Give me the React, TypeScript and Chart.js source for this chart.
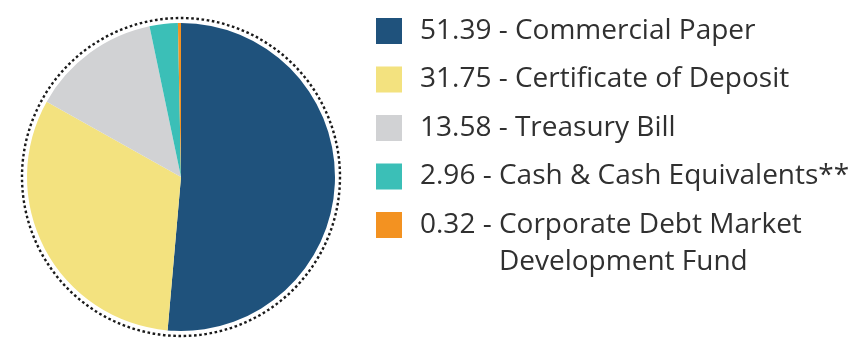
import React, { useEffect, useRef } from "react";
import { Chart, registerables } from "chart.js";

Chart.register(...registerables);

const categories: string[][] = [
  ["Commercial Paper"],
  ["Certificate of Deposit"],
  ["Treasury Bill"],
  ["Cash & Cash Equivalents**"],
  ["Corporate Debt Market", "Development Fund"],
];
const values: number[] = [51.39, 31.75, 13.58, 2.96, 0.32];
const colors: string[] = ["#1f527c", "#f3e27f", "#d1d2d4", "#3bbfb7", "#f39221"];

const FONT = '28px "Open Sans", sans-serif';

const decorPlugin = {
  id: "decor",
  beforeDatasetsDraw(chart: any) {
    const meta = chart.getDatasetMeta(0);
    const arc = meta.data[0];
    if (!arc) return;
    const ctx = chart.ctx;
    ctx.save();
    ctx.beginPath();
    ctx.setLineDash([2.6, 2.6]);
    ctx.lineWidth = 2.4;
    ctx.strokeStyle = "#1a1a1a";
    ctx.arc(arc.x, arc.y, arc.outerRadius + 5, 0, Math.PI * 2);
    ctx.stroke();
    ctx.restore();
  },
  afterDraw(chart: any) {
    const ctx = chart.ctx;
    const labels = chart.data.labels as string[][];
    const data = chart.data.datasets[0].data as number[];
    const bg = chart.data.datasets[0].backgroundColor as string[];
    const boxX = 376;
    const textX = 420;
    const startY = 31;
    const rowH = 48.5;
    const lineH = 37;
    ctx.save();
    ctx.font = FONT;
    ctx.textBaseline = "middle";
    labels.forEach((lines, i) => {
      const cy = startY + i * rowH;
      ctx.fillStyle = bg[i];
      ctx.fillRect(boxX, cy - 13, 26, 26);
      ctx.fillStyle = "#303030";
      const prefix = data[i].toFixed(2) + " - ";
      ctx.fillText(prefix + lines[0], textX, cy);
      const indent = ctx.measureText(prefix).width;
      for (let k = 1; k < lines.length; k++) {
        ctx.fillText(lines[k], textX + indent, cy + k * lineH);
      }
    });
    ctx.restore();
  },
};

export default function App() {
  const ref = useRef<HTMLCanvasElement | null>(null);
  useEffect(() => {
    document.body.style.margin = "0";
    const chart = new Chart(ref.current as HTMLCanvasElement, {
      type: "pie",
      data: {
        labels: categories,
        datasets: [
          {
            data: values,
            backgroundColor: colors,
            borderWidth: 0,
          },
        ],
      },
      options: {
        responsive: false,
        animation: false,
        layout: { padding: { left: 27, top: 23, right: 520, bottom: 25 } },
        plugins: { legend: { display: false }, tooltip: { enabled: false } },
      },
      plugins: [decorPlugin],
    });
    return () => chart.destroy();
  }, []);
  return (
    <div style={{ width: 855, height: 356, background: "#fff" }}>
      <canvas ref={ref} width={855} height={356} />
    </div>
  );
}
